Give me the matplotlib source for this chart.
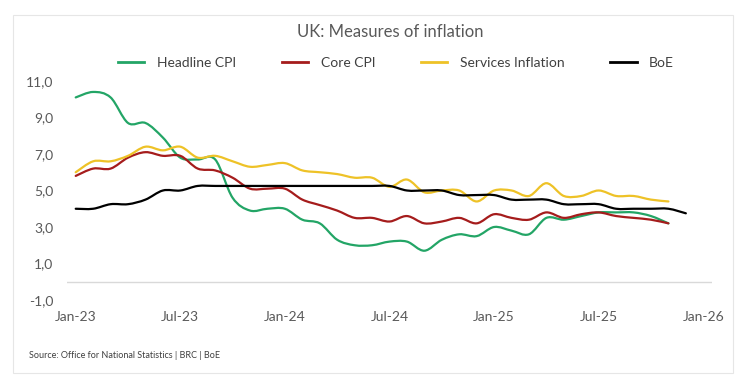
import matplotlib
matplotlib.use('Agg')
import matplotlib.pyplot as plt
from matplotlib.path import Path
from matplotlib.patches import PathPatch, Rectangle
from matplotlib.lines import Line2D
import numpy as np

plt.rcParams['font.family'] = ['Lato', 'DejaVu Sans']

# monthly data, Jan-23 onwards
tick_labels = ['Jan-23', 'Jul-23', 'Jan-24', 'Jul-24', 'Jan-25', 'Jul-25', 'Jan-26']
tick_months = [0, 6, 12, 18, 24, 30, 36]

headline = [10.1, 10.4, 10.1, 8.7, 8.7, 7.9, 6.8, 6.7, 6.7, 4.6, 3.9, 4.0,
            4.0, 3.4, 3.2, 2.3, 2.0, 2.0, 2.2, 2.2, 1.7, 2.3, 2.6, 2.5,
            3.0, 2.8, 2.6, 3.5, 3.4, 3.6, 3.8, 3.8, 3.8, 3.6, 3.2]
core = [5.8, 6.2, 6.2, 6.8, 7.1, 6.9, 6.9, 6.2, 6.1, 5.7, 5.1, 5.1,
        5.1, 4.5, 4.2, 3.9, 3.5, 3.5, 3.3, 3.6, 3.2, 3.3, 3.5, 3.2,
        3.7, 3.5, 3.4, 3.8, 3.5, 3.7, 3.8, 3.6, 3.5, 3.4, 3.2]
services = [6.0, 6.6, 6.6, 6.9, 7.4, 7.2, 7.4, 6.8, 6.9, 6.6, 6.3, 6.4,
            6.5, 6.1, 6.0, 5.9, 5.7, 5.7, 5.2, 5.6, 4.9, 5.0, 5.0, 4.4,
            5.0, 5.0, 4.7, 5.4, 4.7, 4.7, 5.0, 4.7, 4.7, 4.5, 4.4]
boe = [4.0, 4.0, 4.25, 4.25, 4.5, 5.0, 5.0, 5.25, 5.25, 5.25, 5.25, 5.25,
       5.25, 5.25, 5.25, 5.25, 5.25, 5.25, 5.25, 5.0, 5.0, 5.0, 4.75, 4.75,
       4.75, 4.5, 4.5, 4.5, 4.25, 4.25, 4.25, 4.0, 4.0, 4.0, 4.0, 3.75]

series = [('Headline CPI', headline, '#23a566'),
          ('Core CPI', core, '#a51c1c'),
          ('Services Inflation', services, '#eec227'),
          ('BoE', boe, '#000000')]


def smooth_path(y):
	# excel style smoothed line: bezier through every point
	x = np.arange(len(y), dtype=float)
	y = np.asarray(y, dtype=float)
	pts = np.column_stack([x, y])
	ext = np.vstack([pts[0], pts, pts[-1]])
	verts = [pts[0]]
	codes = [Path.MOVETO]
	for i in range(len(pts) - 1):
		p0, p1, p2, p3 = ext[i], ext[i + 1], ext[i + 2], ext[i + 3]
		c1 = p1 + (p2 - p0) / 6.0
		c2 = p2 - (p3 - p1) / 6.0
		verts += [c1, c2, p2]
		codes += [Path.CURVE4] * 3
	return Path(verts, codes)


W, H = 753, 392
fig = plt.figure(figsize=(W / 100, H / 100), dpi=100)
ax = fig.add_axes([67 / W, 1 - 300 / H, (712 - 67) / W, (300 - 81) / H])

for name, vals, col in series:
	ax.add_patch(PathPatch(smooth_path(vals), fill=False, edgecolor=col,
	                       linewidth=1.6, capstyle='round', joinstyle='round'))

ax.axhline(0, color='#d9d9d9', linewidth=1.0, zorder=0)
ax.set_xlim(-0.5, 36.5)
ax.set_ylim(-1, 11)
ax.set_yticks([-1, 1, 3, 5, 7, 9, 11])
ax.set_yticklabels(['-1,0', '1,0', '3,0', '5,0', '7,0', '9,0', '11,0'])
ax.set_xticks(tick_months)
ax.set_xticklabels(tick_labels)
ax.tick_params(length=0, labelsize=10, colors='#595959', pad=8)
ax.tick_params(axis='y', pad=10)
for s in ax.spines.values():
	s.set_visible(False)

handles = [Line2D([], [], color=c, linewidth=2) for _, _, c in series]
fig.legend(handles, [n for n, _, _ in series], loc='center', ncol=4,
           bbox_to_anchor=(396 / W, 1 - 63 / H), frameon=False, fontsize=10,
           labelcolor='#404040', handlelength=1.9, handletextpad=0.9, columnspacing=3.3)

fig.text(390 / W, 1 - 32 / H, 'UK: Measures of inflation', ha='center', va='center',
         fontsize=12, color='#595959')
fig.text(29 / W, 1 - 356 / H, 'Source: Office for National Statistics | BRC | BoE',
         ha='left', va='center', fontsize=6.5, color='#404040')

fig.add_artist(Rectangle((13 / W, 1 - 373 / H), 720 / W, 358 / H, transform=fig.transFigure,
                         fill=False, edgecolor='#e6e6e6', linewidth=0.8))

fig.savefig('out.png', dpi=100)
